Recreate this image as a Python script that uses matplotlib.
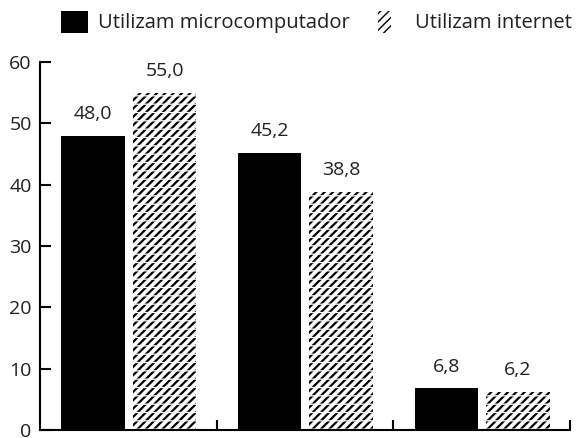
import matplotlib
matplotlib.use("Agg")
import matplotlib.pyplot as plt
from matplotlib.patches import Rectangle
from matplotlib.legend_handler import HandlerTuple

# values
groups = ["A", "B", "C"]
micro = [48.0, 45.2, 6.8]
internet = [55.0, 38.8, 6.2]
series_names = ["Utilizam microcomputador", "Utilizam internet"]
yticks = [0, 10, 20, 30, 40, 50, 60]

plt.rcParams["font.family"] = ["Open Sans", "DejaVu Sans"]


def dashed_hatch(p, white=False):
    # black diagonal lines cut by white horizontal lines -> dashed look
    if hasattr(p, "set_hatch_linewidth"):
        p.set_hatch_linewidth(0.9 if white else 1.6)


fig = plt.figure(figsize=(5.76, 4.38), dpi=100)
ax = fig.add_axes([40 / 576, 8 / 438, 530 / 576, (430 - 62) / 438])

x = list(range(len(groups)))
w = 0.36
xm = [i - 0.2 for i in x]
xi = [i + 0.205 for i in x]

ax.bar(xm, micro, width=w, color="black", linewidth=0)
b1 = ax.bar(xi, internet, width=w, facecolor="white", edgecolor="black",
            hatch="////", linewidth=0)
b2 = ax.bar(xi, internet, width=w, facecolor="none", edgecolor="white",
            hatch="--", linewidth=0)
for p in b1:
    dashed_hatch(p)
for p in b2:
    dashed_hatch(p, white=True)

for xx, v in zip(xm, micro):
    ax.annotate(f"{v:.1f}".replace(".", ","), (xx, v), xytext=(0, 12),
                textcoords="offset points", ha="center", va="baseline",
                fontsize=14, color="#231f20")
for xx, v in zip(xi, internet):
    ax.annotate(f"{v:.1f}".replace(".", ","), (xx, v), xytext=(0, 12),
                textcoords="offset points", ha="center", va="baseline",
                fontsize=14, color="#231f20")

ax.set_xlim(-0.5, 2.5)
ax.set_ylim(0, 60)
ax.set_yticks(yticks)
ax.set_xticks([0.5, 1.5, 2.5])
ax.set_xticklabels([])
ax.tick_params(axis="y", direction="in", length=8, width=1.5, pad=6,
               labelsize=14, labelcolor="#231f20")
ax.tick_params(axis="x", direction="in", length=7, width=1.5)
for s in ["top", "right"]:
    ax.spines[s].set_visible(False)
for s in ["left", "bottom"]:
    ax.spines[s].set_linewidth(1.5)

# legend
h1 = Rectangle((0, 0), 1, 1, facecolor="black", linewidth=0)
h2a = Rectangle((0, 0), 1, 1, facecolor="white", edgecolor="black",
                hatch="////", linewidth=0)
h2b = Rectangle((0, 0), 1, 1, facecolor="none", edgecolor="white",
                hatch="--", linewidth=0)
dashed_hatch(h2a)
dashed_hatch(h2b, white=True)
leg = fig.legend([h1, (h2a, h2b)], series_names,
                 handler_map={tuple: HandlerTuple(ndivide=None, pad=0)},
                 loc="center", bbox_to_anchor=(0.5495, 1 - 22 / 438),
                 ncol=2, frameon=False, fontsize=14.5, handlelength=1.34,
                 handleheight=1.34, handletextpad=0.5, columnspacing=1.39,
                 borderpad=0, borderaxespad=0)
for t in leg.get_texts():
    t.set_color("#231f20")

fig.savefig("out.png", dpi=100)
